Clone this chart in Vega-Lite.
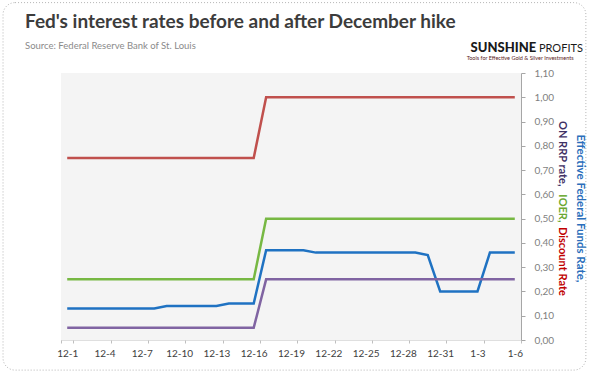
{
  "$schema": "https://vega.github.io/schema/vega-lite/v6.json",
  "width": 460,
  "height": 267,
  "autosize": {"type": "none"},
  "padding": {"left": 61, "top": 73, "right": 68, "bottom": 35},
  "background": "white",
  "title": {
    "text": "Fed's interest rates before and after December hike",
    "subtitle": "Source: Federal Reserve Bank of St. Louis",
    "anchor": "start",
    "frame": "group",
    "dx": -36,
    "offset": -48,
    "font": "Lato",
    "fontSize": 19,
    "fontWeight": "bold",
    "color": "#3c3c3c",
    "subtitleFont": "Lato",
    "subtitleFontSize": 9.5,
    "subtitleColor": "#8a8a8a",
    "subtitlePadding": 9
  },
  "config": {
    "view": {"fill": "#f4f4f4", "stroke": null}
  },
  "resolve": {"scale": {"x": "independent", "y": "independent"}},
  "layer": [
    {
      "data": {
        "values": [
          {"d": "12-1", "effr": 0.13, "rrp": 0.05, "ioer": 0.25, "dr": 0.75},
          {"d": "12-2", "effr": 0.13, "rrp": 0.05, "ioer": 0.25, "dr": 0.75},
          {"d": "12-3", "effr": 0.13, "rrp": 0.05, "ioer": 0.25, "dr": 0.75},
          {"d": "12-4", "effr": 0.13, "rrp": 0.05, "ioer": 0.25, "dr": 0.75},
          {"d": "12-5", "effr": 0.13, "rrp": 0.05, "ioer": 0.25, "dr": 0.75},
          {"d": "12-6", "effr": 0.13, "rrp": 0.05, "ioer": 0.25, "dr": 0.75},
          {"d": "12-7", "effr": 0.13, "rrp": 0.05, "ioer": 0.25, "dr": 0.75},
          {"d": "12-8", "effr": 0.13, "rrp": 0.05, "ioer": 0.25, "dr": 0.75},
          {"d": "12-9", "effr": 0.14, "rrp": 0.05, "ioer": 0.25, "dr": 0.75},
          {"d": "12-10", "effr": 0.14, "rrp": 0.05, "ioer": 0.25, "dr": 0.75},
          {"d": "12-11", "effr": 0.14, "rrp": 0.05, "ioer": 0.25, "dr": 0.75},
          {"d": "12-12", "effr": 0.14, "rrp": 0.05, "ioer": 0.25, "dr": 0.75},
          {"d": "12-13", "effr": 0.14, "rrp": 0.05, "ioer": 0.25, "dr": 0.75},
          {"d": "12-14", "effr": 0.15, "rrp": 0.05, "ioer": 0.25, "dr": 0.75},
          {"d": "12-15", "effr": 0.15, "rrp": 0.05, "ioer": 0.25, "dr": 0.75},
          {"d": "12-16", "effr": 0.15, "rrp": 0.05, "ioer": 0.25, "dr": 0.75},
          {"d": "12-17", "effr": 0.37, "rrp": 0.25, "ioer": 0.50, "dr": 1.00},
          {"d": "12-18", "effr": 0.37, "rrp": 0.25, "ioer": 0.50, "dr": 1.00},
          {"d": "12-19", "effr": 0.37, "rrp": 0.25, "ioer": 0.50, "dr": 1.00},
          {"d": "12-20", "effr": 0.37, "rrp": 0.25, "ioer": 0.50, "dr": 1.00},
          {"d": "12-21", "effr": 0.36, "rrp": 0.25, "ioer": 0.50, "dr": 1.00},
          {"d": "12-22", "effr": 0.36, "rrp": 0.25, "ioer": 0.50, "dr": 1.00},
          {"d": "12-23", "effr": 0.36, "rrp": 0.25, "ioer": 0.50, "dr": 1.00},
          {"d": "12-24", "effr": 0.36, "rrp": 0.25, "ioer": 0.50, "dr": 1.00},
          {"d": "12-25", "effr": 0.36, "rrp": 0.25, "ioer": 0.50, "dr": 1.00},
          {"d": "12-26", "effr": 0.36, "rrp": 0.25, "ioer": 0.50, "dr": 1.00},
          {"d": "12-27", "effr": 0.36, "rrp": 0.25, "ioer": 0.50, "dr": 1.00},
          {"d": "12-28", "effr": 0.36, "rrp": 0.25, "ioer": 0.50, "dr": 1.00},
          {"d": "12-29", "effr": 0.36, "rrp": 0.25, "ioer": 0.50, "dr": 1.00},
          {"d": "12-30", "effr": 0.35, "rrp": 0.25, "ioer": 0.50, "dr": 1.00},
          {"d": "12-31", "effr": 0.20, "rrp": 0.25, "ioer": 0.50, "dr": 1.00},
          {"d": "1-1", "effr": 0.20, "rrp": 0.25, "ioer": 0.50, "dr": 1.00},
          {"d": "1-2", "effr": 0.20, "rrp": 0.25, "ioer": 0.50, "dr": 1.00},
          {"d": "1-3", "effr": 0.20, "rrp": 0.25, "ioer": 0.50, "dr": 1.00},
          {"d": "1-4", "effr": 0.36, "rrp": 0.25, "ioer": 0.50, "dr": 1.00},
          {"d": "1-5", "effr": 0.36, "rrp": 0.25, "ioer": 0.50, "dr": 1.00},
          {"d": "1-6", "effr": 0.36, "rrp": 0.25, "ioer": 0.50, "dr": 1.00}
        ]
      },
      "transform": [{"fold": ["dr", "ioer", "effr", "rrp"], "as": ["series", "rate"]}],
      "mark": {"type": "line", "strokeWidth": 2.5, "strokeJoin": "miter"},
      "encoding": {
        "x": {
          "field": "d",
          "type": "ordinal",
          "sort": null,
          "bandPosition": 0.5,
          "scale": {"type": "band", "paddingInner": 0, "paddingOuter": 0},
          "axis": {
            "title": null,
            "values": ["12-1", "12-4", "12-7", "12-10", "12-13", "12-16", "12-19", "12-22", "12-25", "12-28", "12-31", "1-3", "1-6"],
            "tickBand": "extent",
            "labelAngle": 0,
            "labelFont": "Lato",
            "labelFontSize": 10,
            "labelColor": "#404040",
            "labelPadding": 5,
            "tickSize": 3,
            "tickColor": "#bfbfbf",
            "domainColor": "#bfbfbf",
            "domainDash": [1, 1],
            "grid": false
          }
        },
        "y": {
          "field": "rate",
          "type": "quantitative",
          "scale": {"domain": [0, 1.1], "nice": false, "zero": true},
          "axis": {
            "orient": "right",
            "title": null,
            "values": [0, 0.1, 0.2, 0.3, 0.4, 0.5, 0.6, 0.7, 0.8, 0.9, 1.0, 1.1],
            "labelExpr": "replace(format(datum.value, '.2f'), '.', ',')",
            "labelFont": "Lato",
            "labelFontSize": 10,
            "labelColor": "#7f7f7f",
            "labelPadding": 9,
            "tickSize": 4,
            "tickColor": "#a6a6a6",
            "domainColor": "#a6a6a6",
            "grid": false
          }
        },
        "color": {
          "field": "series",
          "type": "nominal",
          "scale": {"domain": ["dr", "ioer", "effr", "rrp"], "range": ["#c0504d", "#77b843", "#1f72c2", "#8064a2"]},
          "legend": null
        }
      }
    },
    {
      "data": {"values": [{}]},
      "mark": {"type": "rect", "fill": null, "filled": false, "stroke": "#b5b5b5", "strokeWidth": 1, "strokeDash": [1, 2], "cornerRadius": 12},
      "encoding": {
        "x": {"datum": -0.126, "type": "quantitative", "scale": {"domain": [0, 1]}, "axis": null},
        "x2": {"datum": 1.141},
        "y": {"datum": 1.39, "type": "quantitative", "scale": {"domain": [0, 1.1]}, "axis": null},
        "y2": {"datum": -0.124}
      }
    },
    {
      "data": {"values": [{}]},
      "mark": {"type": "text", "angle": 90, "align": "center", "baseline": "middle", "font": "Lato", "fontSize": 11.5, "fontWeight": "bold", "color": "#2a6ebb"},
      "encoding": {
        "x": {"datum": 1.128, "type": "quantitative", "scale": {"domain": [0, 1]}, "axis": null},
        "y": {"datum": 0.542, "type": "quantitative", "scale": {"domain": [0, 1.1]}, "axis": null},
        "text": {"value": "Effective Federal Funds Rate,"}
      }
    },
    {
      "data": {"values": [{}]},
      "mark": {"type": "text", "angle": 90, "align": "left", "baseline": "middle", "font": "Lato", "fontSize": 11, "fontWeight": "bold", "color": "#3f3165"},
      "encoding": {
        "x": {"datum": 1.089, "type": "quantitative", "scale": {"domain": [0, 1]}, "axis": null},
        "y": {"datum": 0.902, "type": "quantitative", "scale": {"domain": [0, 1.1]}, "axis": null},
        "text": {"value": "ON RRP rate,"}
      }
    },
    {
      "data": {"values": [{}]},
      "mark": {"type": "text", "angle": 90, "align": "left", "baseline": "middle", "font": "Lato", "fontSize": 11, "fontWeight": "bold", "color": "#6aa832"},
      "encoding": {
        "x": {"datum": 1.089, "type": "quantitative", "scale": {"domain": [0, 1]}, "axis": null},
        "y": {"datum": 0.6, "type": "quantitative", "scale": {"domain": [0, 1.1]}, "axis": null},
        "text": {"value": "IOER,"}
      }
    },
    {
      "data": {"values": [{}]},
      "mark": {"type": "text", "angle": 90, "align": "left", "baseline": "middle", "font": "Lato", "fontSize": 11, "fontWeight": "bold", "color": "#c00000"},
      "encoding": {
        "x": {"datum": 1.089, "type": "quantitative", "scale": {"domain": [0, 1]}, "axis": null},
        "y": {"datum": 0.466, "type": "quantitative", "scale": {"domain": [0, 1.1]}, "axis": null},
        "text": {"value": "Discount Rate"}
      }
    },
    {
      "data": {"values": [{}]},
      "mark": {"type": "text", "align": "right", "baseline": "alphabetic", "font": "Lato", "fontSize": 13, "fontWeight": "900", "color": "#1a1a1a"},
      "encoding": {
        "x": {"datum": 1.033, "type": "quantitative", "scale": {"domain": [0, 1]}, "axis": null},
        "y": {"datum": 1.187, "type": "quantitative", "scale": {"domain": [0, 1.1]}, "axis": null},
        "text": {"value": "SUNSHINE"}
      }
    },
    {
      "data": {"values": [{}]},
      "mark": {"type": "text", "align": "left", "baseline": "alphabetic", "font": "Lato", "fontSize": 11, "fontWeight": "normal", "color": "#1a1a1a"},
      "encoding": {
        "x": {"datum": 1.039, "type": "quantitative", "scale": {"domain": [0, 1]}, "axis": null},
        "y": {"datum": 1.187, "type": "quantitative", "scale": {"domain": [0, 1.1]}, "axis": null},
        "text": {"value": "PROFITS"}
      }
    },
    {
      "data": {"values": [{}]},
      "mark": {"type": "text", "align": "center", "baseline": "alphabetic", "font": "Lato", "fontSize": 5.5, "color": "#5a1a1a"},
      "encoding": {
        "x": {"datum": 0.998, "type": "quantitative", "scale": {"domain": [0, 1]}, "axis": null},
        "y": {"datum": 1.154, "type": "quantitative", "scale": {"domain": [0, 1.1]}, "axis": null},
        "text": {"value": "Tools for Effective Gold & Silver Investments"}
      }
    }
  ]
}
